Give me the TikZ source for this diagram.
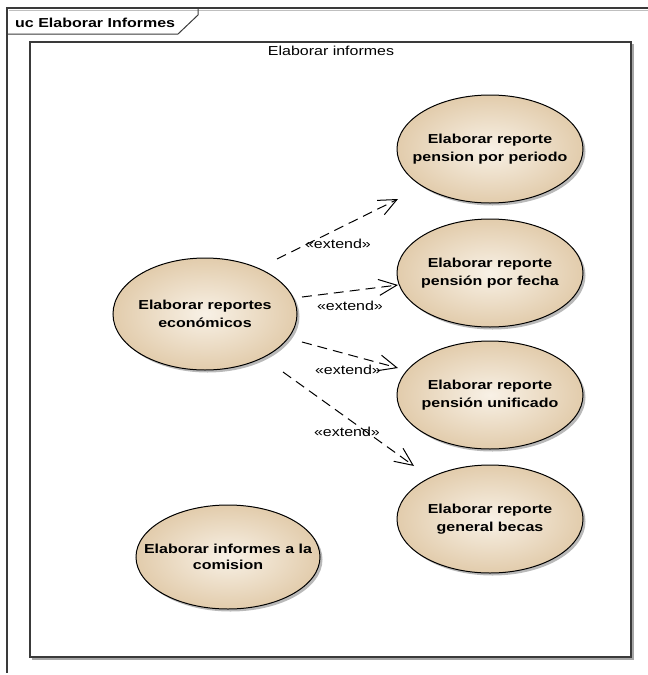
\documentclass[tikz,border=0pt]{standalone}
\usepackage{fontspec}
\setmainfont{Liberation Sans}[FakeStretch=1.23]
\usetikzlibrary{shapes.geometric,arrows.meta,shadows,calc}
\definecolor{framegray}{HTML}{3A3A3A}
\definecolor{ucin}{HTML}{F8F1E6}
\definecolor{ucout}{HTML}{E2CCAC}
\begin{document}
\begin{tikzpicture}[x=1pt,y=-1pt,
  usecase/.style={ellipse, draw=black, line width=1pt,
    minimum width=186pt, minimum height=108pt, inner xsep=-40pt, inner ysep=0pt,
    align=center, font=\fontsize{13}{18}\selectfont\bfseries,
    inner color=ucin, outer color=ucout,
    drop shadow={shadow xshift=2.5pt, shadow yshift=-2.5pt, fill=black!50, opacity=0.55}},
  ext/.style={draw=black, line width=1pt, dash pattern=on 10pt off 6pt,
    -{Straight Barb[length=18pt,width=16pt]}},
  extlabel/.style={font=\fontsize{13}{15}\selectfont, inner sep=0pt},
  plainlabel/.style={font=\fontsize{13}{15}\selectfont, inner sep=0pt}
]
\useasboundingbox (0,0) rectangle (648,675);

% diagram frame and its name tab
\draw[black!25, line width=1pt] (9,10.5) -- (648,10.5);
\draw[framegray, line width=1.3pt] (648,8) -- (7,8) -- (7,673);
\draw[framegray, line width=1pt] (7,34) -- (178,34) -- (198,15) -- (198,8);
\node[font=\fontsize{13}{15}\selectfont\bfseries, inner sep=0pt, anchor=base west]
  (title) at (15,27) {uc Elaborar Informes};

% system boundary
\draw[black!35, line width=1.2pt] (32,659) -- (633,659) -- (633,44);
\draw[framegray, line width=1.3pt] (30,42) rectangle (631,657);
\node[plainlabel] (sys) at (331,51) {Elaborar informes};

% use cases
\node[usecase] (rpp) at (490,149) {Elaborar reporte\\pension por periodo};
\node[usecase] (rpf) at (490,273) {Elaborar reporte\\pensión por fecha};
\node[usecase] (rpu) at (490,395) {Elaborar reporte\\pensión unificado};
\node[usecase] (rgb) at (490,519) {Elaborar reporte\\general becas};
\node[usecase, minimum width=184pt, minimum height=112pt] (rec) at (205,314)
  {Elaborar reportes\\económicos};
\node[usecase, minimum width=184pt, minimum height=104pt,
  font=\fontsize{13}{16.5}\selectfont\bfseries]
  (ric) at (228,557) {Elaborar informes a la\\comision};

% extend relations
\coordinate (a1s) at ($(rec)+(72,-55)$);
\coordinate (a1e) at ($(rpp)+(-92,50)$);
\coordinate (a2s) at ($(rec)+(97,-17)$);
\coordinate (a2e) at ($(rpf)+(-92,12)$);
\coordinate (a3s) at ($(rec)+(97,28)$);
\coordinate (a3e) at ($(rpu)+(-92,-27)$);
\coordinate (a4s) at ($(rec)+(78,58)$);
\coordinate (a4e) at ($(rgb)+(-76,-53)$);

\draw[ext] (a1s) -- (a1e);
\draw[ext] (a2s) -- (a2e);
\draw[ext] (a3s) -- (a3e);
\draw[ext] (a4s) -- (a4e);

\node[extlabel] (l1) at (338,244) {«extend»};
\node[extlabel] (l2) at (350,306) {«extend»};
\node[extlabel] (l3) at (348,370) {«extend»};
\node[extlabel] (l4) at (347,432) {«extend»};
\end{tikzpicture}
\end{document}
